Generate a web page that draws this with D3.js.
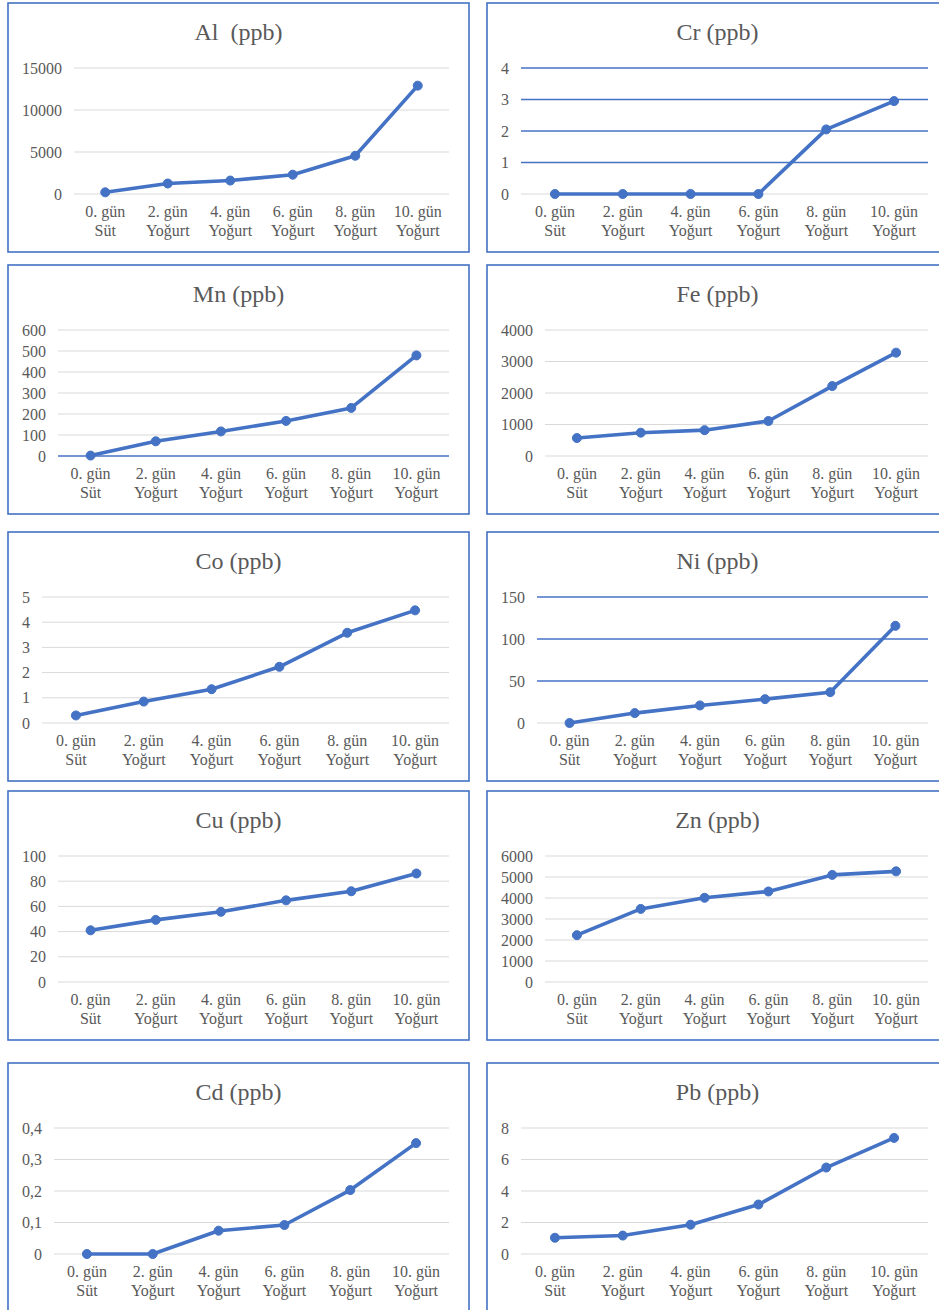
<!DOCTYPE html>
<html>
<head>
<meta charset="utf-8">
<script src="https://cdn.jsdelivr.net/npm/d3@7"></script>
<style>
  html, body { margin: 0; padding: 0; background: #ffffff; }
  svg { display: block; }
  text { font-family: "Liberation Serif", "Times New Roman", serif; fill: #595959; }
</style>
</head>
<body>
<svg id="chart" width="939" height="1310"></svg>
<script>
// Sampling days (two-line category labels)
const categories = [
  ["0. gün", "Süt"],
  ["2. gün", "Yoğurt"],
  ["4. gün", "Yoğurt"],
  ["6. gün", "Yoğurt"],
  ["8. gün", "Yoğurt"],
  ["10. gün", "Yoğurt"]
];

// Element concentrations (ppb) per sampling day
const alValues = [200, 1250, 1600, 2300, 4550, 12900];
const crValues = [0, 0, 0, 0, 2.05, 2.95];
const mnValues = [2, 70, 117, 167, 229, 479];
const feValues = [570, 740, 820, 1110, 2220, 3280];
const coValues = [0.3, 0.85, 1.34, 2.23, 3.58, 4.47];
const niValues = [0, 11.8, 20.9, 28.4, 36.7, 115.7];
const cuValues = [41, 49.3, 55.7, 64.8, 72, 86.1];
const znValues = [2230, 3480, 4010, 4310, 5100, 5270];
const cdValues = [0, 0, 0.074, 0.092, 0.203, 0.352];
const pbValues = [1.03, 1.17, 1.86, 3.14, 5.49, 7.37];

// Value-axis ticks
const alTicks = [0, 5000, 10000, 15000];
const crTicks = [0, 1, 2, 3, 4];
const mnTicks = [0, 100, 200, 300, 400, 500, 600];
const feTicks = [0, 1000, 2000, 3000, 4000];
const coTicks = [0, 1, 2, 3, 4, 5];
const niTicks = [0, 50, 100, 150];
const cuTicks = [0, 20, 40, 60, 80, 100];
const znTicks = [0, 1000, 2000, 3000, 4000, 5000, 6000];
const cdTicks = [0, 0.1, 0.2, 0.3, 0.4];
const pbTicks = [0, 2, 4, 6, 8];

// Chart titles
const titles = ["Al  (ppb)", "Cr (ppb)", "Mn (ppb)", "Fe (ppb)", "Co (ppb)",
                "Ni (ppb)", "Cu (ppb)", "Zn (ppb)", "Cd (ppb)", "Pb (ppb)"];

const seriesList = [alValues, crValues, mnValues, feValues, coValues,
                    niValues, cuValues, znValues, cdValues, pbValues];
const tickList = [alTicks, crTicks, mnTicks, feTicks, coTicks,
                  niTicks, cuTicks, znTicks, cdTicks, pbTicks];

// Gridline styling: which lines are drawn in the accent colour
const gridStyle = ["plain", "blueMajor", "blueZero", "plain", "plain",
                   "blueMajor", "plain", "plain", "plain", "plain"];

const BLUE = "#4472C4";
const GRID = "#d9d9d9";
const LABEL_SIZE = 16;

// Panel grid geometry
const colX = [8, 487];
const rowY = [3, 265, 532, 791, 1063];
const panelW = 461, panelH = 249;
const plotTopOff = 65, plotBottomOff = 191, plotRightPad = 20;

const locale = d3.formatLocale({ decimal: ",", thousands: "", grouping: [3], currency: ["", ""] });
const fmt = locale.format("~g");

const svg = d3.select("#chart");

seriesList.forEach((values, i) => {
  const px = colX[i % 2];
  const py = rowY[Math.floor(i / 2)];
  const ticks = tickList[i];
  const g = svg.append("g").attr("transform", `translate(${px},${py})`);

  // Panel frame
  g.append("rect")
    .attr("x", 0).attr("y", 0)
    .attr("width", panelW).attr("height", panelH)
    .attr("fill", "#ffffff")
    .attr("stroke", BLUE).attr("stroke-width", 1.6);

  // Title
  g.append("text")
    .attr("x", panelW / 2).attr("y", 37)
    .attr("text-anchor", "middle")
    .attr("font-size", 24)
    .style("white-space", "pre")
    .text(titles[i]);

  // Measure the widest tick label to size the left margin
  const probe = g.append("text").attr("font-size", LABEL_SIZE);
  let maxW = 0;
  ticks.forEach(t => {
    probe.text(fmt(t));
    maxW = Math.max(maxW, probe.node().getComputedTextLength());
  });
  probe.remove();

  const left = 13 + maxW + 13;
  const right = panelW - plotRightPad;

  const y = d3.scaleLinear()
    .domain([0, d3.max(ticks)])
    .range([plotBottomOff, plotTopOff]);
  const x = d3.scaleBand()
    .domain(d3.range(categories.length))
    .range([left, right]);

  // Gridlines
  const style = gridStyle[i];
  const accent = d => (style === "blueMajor" && d !== 0) || (style === "blueZero" && d === 0);
  g.append("g").selectAll("line")
    .data(ticks)
    .join("line")
    .attr("x1", left).attr("x2", right)
    .attr("y1", d => y(d)).attr("y2", d => y(d))
    .attr("stroke", d => accent(d) ? BLUE : GRID)
    .attr("stroke-width", d => accent(d) ? 1.4 : 1);

  // Value axis labels
  const yAxis = d3.axisLeft(y).tickValues(ticks).tickFormat(fmt).tickSize(0).tickPadding(12);
  const ya = g.append("g").attr("transform", `translate(${left},0)`).call(yAxis);
  ya.select(".domain").remove();
  ya.selectAll("text")
    .attr("font-family", null)
    .attr("font-size", LABEL_SIZE)
    .attr("fill", "#595959");

  // Category axis labels (two lines)
  const xAxis = d3.axisBottom(x).tickSize(0).tickFormat(() => "");
  const xa = g.append("g").attr("transform", `translate(0,${plotBottomOff})`).call(xAxis);
  xa.select(".domain").remove();
  xa.selectAll(".tick").each(function(d) {
    const t = d3.select(this).select("text")
      .attr("y", 0).attr("dy", null)
      .attr("font-family", null)
      .attr("font-size", LABEL_SIZE)
      .attr("fill", "#595959");
    t.selectAll("tspan")
      .data(categories[d])
      .join("tspan")
      .attr("x", 0)
      .attr("y", (s, k) => k === 0 ? 23 : 42)
      .text(s => s);
  });

  // Series line
  const line = d3.line()
    .x((d, k) => x(k) + x.bandwidth() / 2)
    .y(d => y(d));
  g.append("path")
    .datum(values)
    .attr("d", line)
    .attr("fill", "none")
    .attr("stroke", BLUE)
    .attr("stroke-width", 3.6)
    .attr("stroke-linejoin", "round")
    .attr("stroke-linecap", "round");

  // Markers
  g.append("g").selectAll("circle")
    .data(values)
    .join("circle")
    .attr("cx", (d, k) => x(k) + x.bandwidth() / 2)
    .attr("cy", d => y(d))
    .attr("r", 4.5)
    .attr("fill", BLUE)
    .attr("stroke", BLUE)
    .attr("stroke-width", 1);
});
</script>
</body>
</html>
